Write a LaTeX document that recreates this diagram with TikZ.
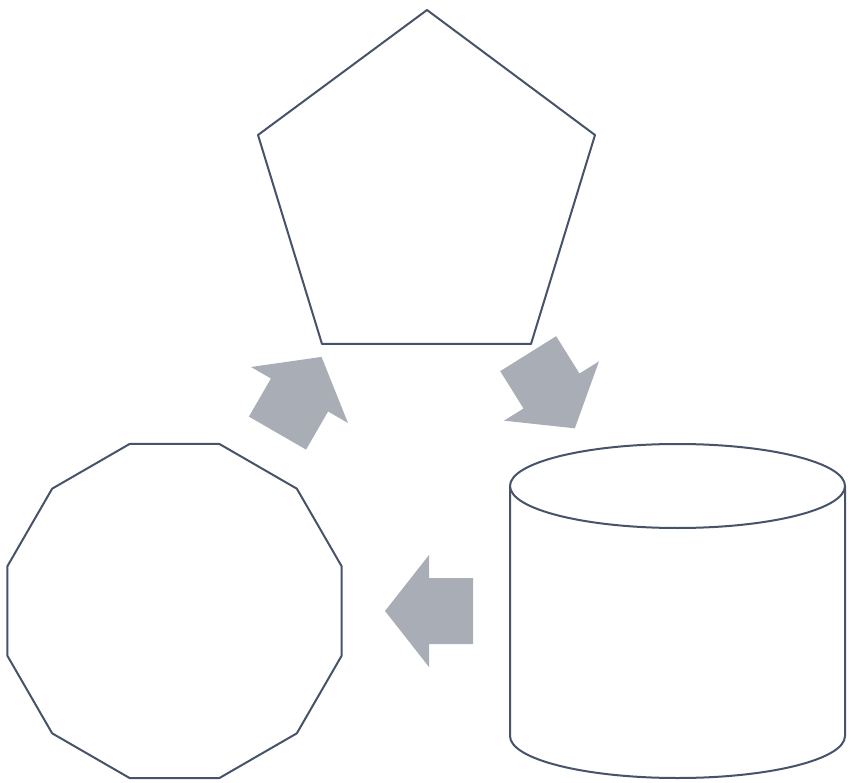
\documentclass[tikz,border=0pt]{standalone}
\definecolor{edgecol}{HTML}{475369}
\definecolor{arrowgray}{HTML}{A9ADB5}
\begin{document}
\begin{tikzpicture}[x=1pt,y=-1pt,
  shapeline/.style={draw=edgecol, line width=2pt, line join=round, fill=white},
  blockarrow/.style={fill=arrowgray},
  pics/bigarrow/.style={code={
    \fill[blockarrow] (44,0) -- (0,56) -- (0,33) -- (-44,33) -- (-44,-33) -- (0,-33) -- (0,-56) -- cycle;
  }}]
\useasboundingbox (0,0) rectangle (851,783);
% pentagon
\coordinate (pT) at (427,10);
\coordinate (pR) at (595,135);
\coordinate (pBR) at (531,344);
\coordinate (pBL) at (322,344);
\coordinate (pL) at (258,135);
\draw[shapeline] (pT) -- (pR) -- (pBR) -- (pBL) -- (pL) -- cycle;
% dodecagon
\coordinate (dC) at (174.5,611);
\draw[shapeline, shift={(dC)}] (15:173) \foreach \a in {45,75,...,345} { -- (\a:173) } -- cycle;
% cylinder
\coordinate (cTop) at (677.5,486);
\coordinate (cBot) at (677.5,736);
\draw[shapeline] (510,486) -- (510,736) arc[start angle=180, end angle=0, x radius=167.5, y radius=42] -- (845,486);
\draw[shapeline] (cTop) ellipse [x radius=167.5, y radius=42];
% block arrows
\pic[shift={(551.5,391)}, rotate=-58] {bigarrow};
\pic[shift={(429,611)}, rotate=180] {bigarrow};
\pic[shift={(299.5,395)}, rotate=60] {bigarrow};
\end{tikzpicture}
\end{document}
